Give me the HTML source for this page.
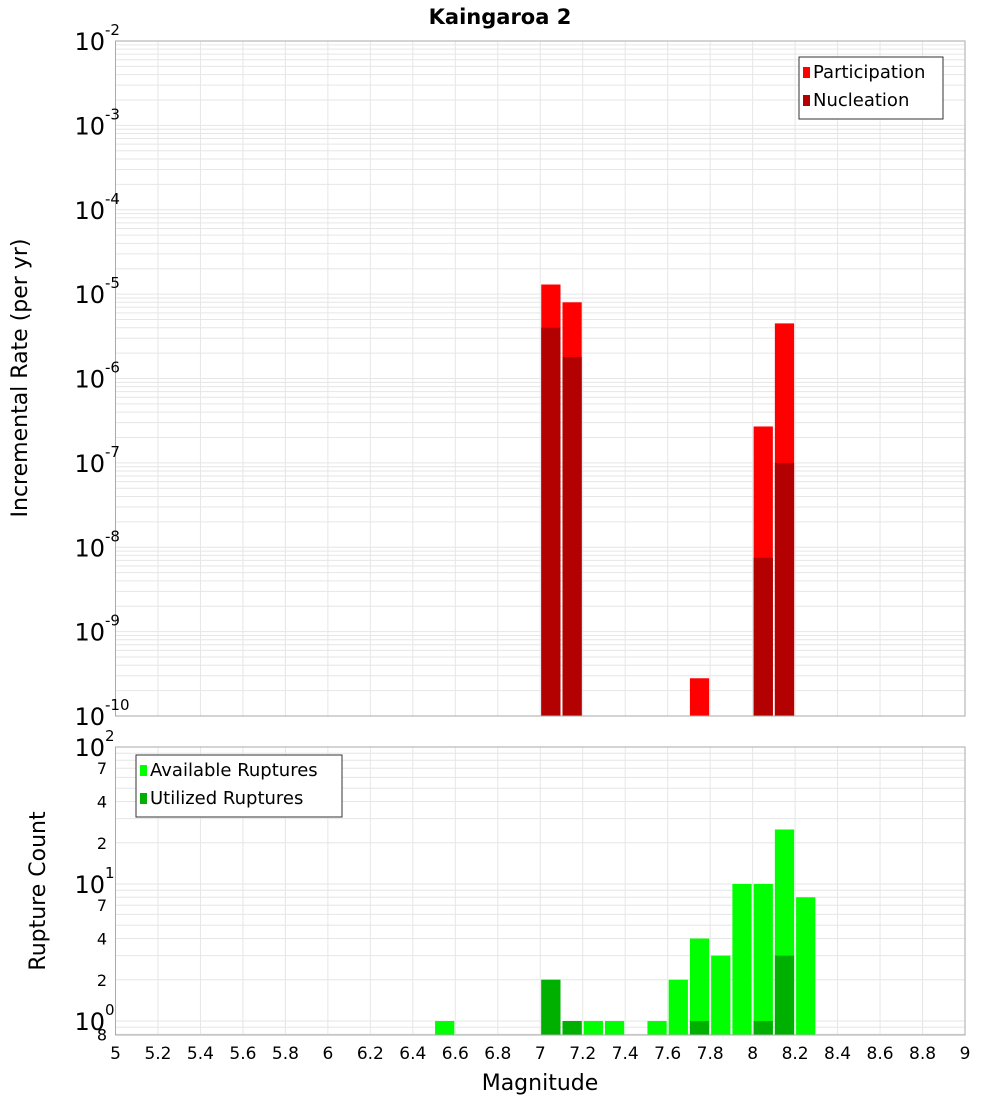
<!DOCTYPE html>
<html><head><meta charset="utf-8"><style>
body{margin:0;background:#fff;font-family:"Liberation Sans","DejaVu Sans",sans-serif}
svg text{font-family:"DejaVu Sans","Liberation Sans",sans-serif}
</style></head><body>
<svg id="c" width="1000" height="1100" xmlns="http://www.w3.org/2000/svg">
<text x="500" y="24" text-anchor="middle" font-size="21" font-weight="bold">Kaingaroa 2</text>
<text transform="translate(27,378) rotate(-90)" text-anchor="middle" font-size="22">Incremental Rate (per yr)</text>
<text transform="translate(45,891) rotate(-90)" text-anchor="middle" font-size="22">Rupture Count</text>
<text x="540" y="1090" text-anchor="middle" font-size="22">Magnitude</text>
</svg>
<script>
const mags=[7.05,7.15,7.75,8.05,8.15];
const participation=[1.3e-5,8e-6,2.8e-10,2.7e-7,4.5e-6];
const nucleation=[4e-6,1.8e-6,0,7.5e-9,1e-7];
const cMags=[6.55,7.05,7.15,7.25,7.35,7.55,7.65,7.75,7.85,7.95,8.05,8.15,8.25];
const available=[1,2,1,1,1,1,2,4,3,10,10,25,8];
const utilized=[0,2,1,0,0,0,0,1,0,0,1,3,0];
const xTicks=[5,5.2,5.4,5.6,5.8,6,6.2,6.4,6.6,6.8,7,7.2,7.4,7.6,7.8,8,8.2,8.4,8.6,8.8,9];
const topExp=[-2,-3,-4,-5,-6,-7,-8,-9,-10];
const svg=document.getElementById('c');
const NS='http://www.w3.org/2000/svg';
const L=115.5,R=965,T1=41,B1=716,T2=747,B2=1035;
const x=m=>L+(m-5)*(R-L)/4;
const yTop=v=>T1+(-2-Math.log10(v))*(B1-T1)/8;
const yBot=v=>T2+(2-Math.log10(v))*137;
function el(t,a,p){const e=document.createElementNS(NS,t);for(const k in a)e.setAttribute(k,a[k]);(p||svg).appendChild(e);return e;}
// grids
function grid(top,bot,yf,lo,hi){
  for(let d=lo;d<hi;d++)for(let k=1;k<10;k++){const y=yf(k*Math.pow(10,d));if(y<top-0.5||y>bot+0.5)continue;
    const g=el('line',{x1:L,x2:R,y1:y,y2:y,stroke:'#e6e6e6','stroke-width':1});
    
    }
  xTicks.forEach(t=>{const g=el('line',{x1:x(t),x2:x(t),y1:top,y2:bot,stroke:'#e6e6e6','stroke-width':1});
    
    });
}
grid(T1,B1,yTop,-10,-2);
grid(T2,B2,yBot,-1,2);
const bw=(R-L)/40-2;
mags.forEach((m,i)=>{
  const r=el('rect',{x:x(m)-bw/2,y:yTop(participation[i]),width:bw,height:B1-yTop(participation[i]),fill:'#ff0000'});
  
  
  if(nucleation[i]>0){const n=el('rect',{x:x(m)-bw/2,y:yTop(nucleation[i]),width:bw,height:B1-yTop(nucleation[i]),fill:'#b30000'});
  
  }
});
cMags.forEach((m,i)=>{
  const r=el('rect',{x:x(m)-bw/2,y:yBot(available[i]),width:bw,height:B2-yBot(available[i]),fill:'#00ff00'});
  
  
  if(utilized[i]>0){const n=el('rect',{x:x(m)-bw/2,y:yBot(utilized[i]),width:bw,height:B2-yBot(utilized[i]),fill:'#00b000'});
  
  }
});
[[T1,B1],[T2,B2]].forEach(([t,b])=>{const f=el('rect',{x:L,y:t,width:R-L,height:b-t,fill:'none',stroke:'#aaa','stroke-width':1});
  
  });
// top y ticks
topExp.forEach(e=>{const y=yTop(Math.pow(10,e));
  const t=el('text',{x:105,y:y+9,'text-anchor':'end','font-size':24});
  
  
  t.textContent='10';
  const s=el('text',{x:105,y:y-6,'font-size':15});
  
  
  s.textContent=String(e);
});
// bottom y ticks
const botMajor=[2,1,0];
botMajor.forEach(e=>{const y=yBot(Math.pow(10,e));
  const t=el('text',{x:105,y:y+9,'text-anchor':'end','font-size':24});
  
  
  t.textContent='10';
  const s=el('text',{x:105,y:y-6,'font-size':15});
  
  
  s.textContent=String(e);
});
const botMinor=[70,40,20,7,4,2,0.8];
botMinor.forEach(v=>{const y=yBot(v);
  const t=el('text',{x:107,y:y+6,'text-anchor':'end','font-size':16});
  
  
  t.textContent=v<1?'8':String(v).replace(/0$/,'')||'1';
});
xTicks.forEach(v=>{
  const t=el('text',{x:x(v),y:1059,'text-anchor':'middle','font-size':17});
  
  
  t.textContent=String(v);
});
// legends
function legend(x0,y0,w,items,nm){
  const b=el('rect',{x:x0,y:y0,width:w,height:items.length*28+6,fill:'#fff',stroke:'#333','stroke-width':1});
  
  
  items.forEach(([c,l],i)=>{
    const s=el('rect',{x:x0+4,y:y0+10+i*28,width:7,height:11,fill:c});
    
    
    const t=el('text',{x:x0+14,y:y0+21+i*28,'font-size':18});
    
    
    t.textContent=l;});
}
legend(799,57,144,[['#ff0000','Participation'],['#b30000','Nucleation']],'top-legend');
legend(136,755,206,[['#00ff00','Available Ruptures'],['#00b000','Utilized Ruptures']],'bottom-legend');
</script>
</body></html>
